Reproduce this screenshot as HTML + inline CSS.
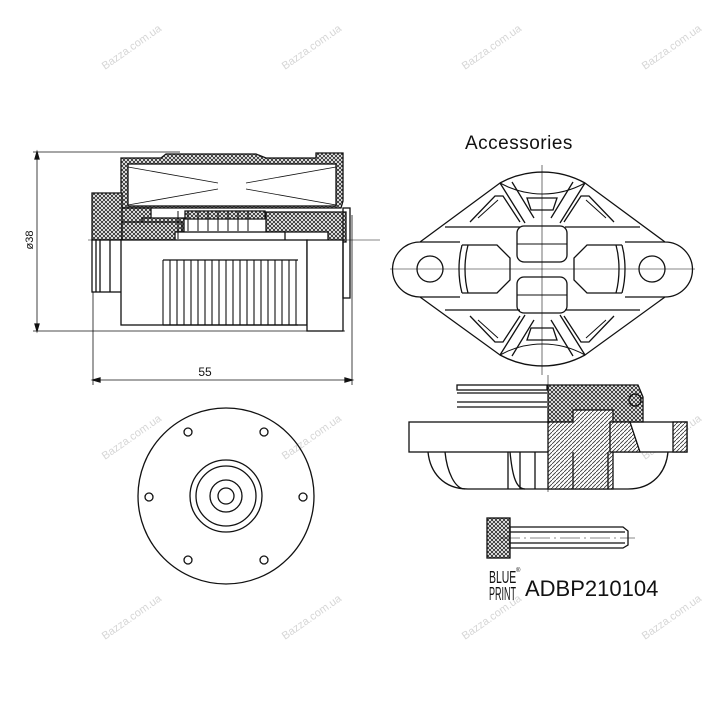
<!DOCTYPE html>
<html><head><style>html,body{margin:0;padding:0;background:#fff}svg{display:block}</style></head>
<body>
<svg width="720" height="720" viewBox="0 0 720 720" xmlns="http://www.w3.org/2000/svg" font-family="Liberation Sans, sans-serif">
<defs>
<pattern id="ch" width="4" height="4" patternUnits="userSpaceOnUse"><rect width="4" height="4" fill="#fff"/><path d="M0 0L4 4M4 0L0 4" stroke="#222" stroke-width="0.8"/></pattern>
<pattern id="dg" width="4" height="4" patternUnits="userSpaceOnUse"><rect width="4" height="4" fill="#fff"/><path d="M0 4L4 0" stroke="#333" stroke-width="0.8"/></pattern>
</defs>
<g fill="#ccc" font-size="11" opacity="0.8">
<text transform="translate(105,70) rotate(-35)">Bazza.com.ua</text>
<text transform="translate(285,70) rotate(-35)">Bazza.com.ua</text>
<text transform="translate(465,70) rotate(-35)">Bazza.com.ua</text>
<text transform="translate(645,70) rotate(-35)">Bazza.com.ua</text>
<text transform="translate(105,460) rotate(-35)">Bazza.com.ua</text>
<text transform="translate(285,460) rotate(-35)">Bazza.com.ua</text>
<text transform="translate(645,460) rotate(-35)">Bazza.com.ua</text>
<text transform="translate(105,640) rotate(-35)">Bazza.com.ua</text>
<text transform="translate(285,640) rotate(-35)">Bazza.com.ua</text>
<text transform="translate(465,640) rotate(-35)">Bazza.com.ua</text>
<text transform="translate(645,640) rotate(-35)">Bazza.com.ua</text>
</g>
<g stroke="#111" stroke-width="1.3" fill="none">
<!-- dimensions -->
<line x1="33" y1="152" x2="180" y2="152" stroke-width="0.8"/>
<line x1="33" y1="331" x2="345" y2="331" stroke-width="0.8"/>
<line x1="37" y1="152" x2="37" y2="331" stroke-width="0.8"/>
<path d="M37 152l-2 7h4zM37 331l-2-7h4z" fill="#111"/>
<line x1="93" y1="290" x2="93" y2="385" stroke-width="0.8"/>
<line x1="352" y1="215" x2="352" y2="385" stroke-width="0.8"/>
<line x1="93" y1="380" x2="352" y2="380" stroke-width="0.8"/>
<path d="M93 380l7-2v4zM352 380l-7-2v4z" fill="#111"/>
<line x1="88" y1="240" x2="380" y2="240" stroke-width="0.6"/>
<!-- housing -->
<path d="M121 158h40l5-4h90l10 4h50v-5h27v48l-2 7H121z" fill="url(#ch)"/>
<rect x="128" y="164" width="208" height="42" fill="#fff"/>
<path d="M128 167L218 183M128 205L218 189M336 167L246 183M336 205L246 189" stroke-width="0.8"/>
<path d="M121 208h30v18h-30zM185 211h80v8h-80z" fill="url(#ch)"/>
<path d="M92 193h30v47H92z" fill="url(#ch)"/>
<path d="M142 218h42v24h-42zM266 212h80v30h-18v-10h-62z" fill="url(#ch)"/>
<path d="M122 222h60v18h-60z" fill="url(#ch)"/>
<rect x="175" y="232" width="110" height="18" fill="#fff"/>
<path d="M178 211v28M188 211v20M198 211v20M208 211v20M218 211v20M228 211v20M238 211v20M248 211v20" stroke-width="1"/>
<rect x="92" y="240" width="30" height="52" fill="#fff"/>
<path d="M96 240v52M100 240v52M110 240v52"/>
<rect x="121" y="240" width="186" height="85" fill="#fff"/>
<rect x="307" y="240" width="36" height="91" fill="#fff"/>
<rect x="343" y="208" width="7" height="90"/>
<path d="M163 260h135M163 325h135"/>
<g stroke-width="1.1">
<path d="M163 260v65M170 260v65M177 260v65M184 260v65M191 260v65M198 260v65M205 260v65M212 260v65M219 260v65M226 260v65M233 260v65M240 260v65M247 260v65M254 260v65M261 260v65M268 260v65M275 260v65M282 260v65M289 260v65M296 260v65"/>
</g>
<!-- round view -->
<circle cx="226" cy="496" r="88"/>
<circle cx="226" cy="496" r="36"/>
<circle cx="226" cy="496" r="30"/>
<circle cx="226" cy="496" r="16"/>
<circle cx="226" cy="496" r="8"/>
<g fill="#fff">
<circle cx="188" cy="432" r="4"/><circle cx="264" cy="432" r="4"/>
<circle cx="149" cy="497" r="4"/><circle cx="303" cy="497" r="4"/>
<circle cx="188" cy="560" r="4"/><circle cx="264" cy="560" r="4"/>
</g>
<!-- flange top view -->
<path d="M420 242L500 183A88 88 0 0 1 585 183L665 242A27.5 27.5 0 0 1 665 297L585 355A88 88 0 0 1 500 355L420 297A27.5 27.5 0 0 1 420 242z"/>
<path d="M500 183A88 88 0 0 0 585 183M500 355A88 88 0 0 1 585 355" stroke-width="1"/>
<circle cx="430" cy="269" r="13"/><circle cx="652" cy="269" r="13"/>
<path d="M420 242h40M420 297h40M625 242h40M625 297h40"/>
<path d="M445 227h75M565 227h75M445 310h75M565 310h75"/>
<!-- lobes inner -->
<path d="M462 245h35l13 13v22l-13 13h-35M622 245h-35l-13 13v22l13 13h35"/>
<path d="M462 245c-4 15-4 33 0 48M468 245c-4 15-4 33 0 48M622 245c4 15 4 33 0 48M616 245c4 15 4 33 0 48"/>
<rect x="517" y="226" width="50" height="36" rx="7"/>
<rect x="517" y="277" width="50" height="36" rx="7"/>
<path d="M517 244h50M517 295h50" stroke-width="1"/>
<!-- X ribs -->
<path d="M500 183l25 40M512 182l22 36M585 183l-25 40M573 182l-22 36M500 355l25-40M512 356l22-36M585 355l-25-40M573 356l-22-36"/>
<path d="M527 198h30l-4 12h-22zM527 340h30l-4-12h-22z"/>
<path d="M470 222l25-26h8l17 26M614 222l-25-26h-8l-17 26M470 316l25 26h8l17-26M614 316l-25 26h-8l-17-26"/>
<path d="M478 218l20-18M606 218l-20-18M478 320l20 18M606 320l-20 18" stroke-width="1"/>
<line x1="390" y1="269" x2="695" y2="269" stroke-width="0.6"/>
<line x1="542" y1="165" x2="542" y2="375" stroke-width="0.6"/>
<!-- flange side view -->
<path d="M428 452c2 20 15 37 40 37h160c25 0 38-17 40-37"/>
<path d="M445 452c2 20 10 37 20 37M510 452c2 20 5 37 15 37"/>
<rect x="457" y="385" width="90" height="5"/>
<path d="M457 393h90M457 402h90M457 407h90"/>
<rect x="409" y="422" width="278" height="30" fill="#fff"/>
<path d="M548 385h90l5 12v25H548z" fill="url(#ch)"/>
<circle cx="635" cy="400" r="6" fill="url(#ch)"/>
<path d="M548 422h25v-12h40v79h-65z" fill="url(#dg)"/>
<path d="M610 422h20l10 30h-30z" fill="url(#dg)"/>
<rect x="673" y="422" width="14" height="30" fill="url(#dg)"/>
<path d="M508 452v37M520 452v37M535 452v37M573 452v37M608 452v37"/>
<line x1="548" y1="375" x2="548" y2="492" stroke-width="0.6"/>
<!-- bolt -->
<rect x="487" y="518" width="23" height="40" fill="url(#ch)"/>
<path d="M510 527h113l5 4v14l-5 3H510z"/>
<path d="M510 532h115M510 543h115"/>
<line x1="500" y1="538" x2="635" y2="538" stroke-width="0.5" stroke-dasharray="20 4 2 4"/>
</g>
<text font-size="11" fill="#111" transform="translate(33,240) rotate(-90)" text-anchor="middle">ø38</text>
<text x="205" y="376" font-size="12" fill="#111" text-anchor="middle">55</text>
<text x="465" y="149" font-size="19" fill="#111" letter-spacing="0.5">Accessories</text>
<text font-size="18" fill="#111" transform="translate(489,583) scale(0.58,1)">BLUE</text>
<text font-size="18" fill="#111" transform="translate(489,600) scale(0.5,1)">PRINT</text>
<text x="516" y="572" font-size="6" fill="#111">®</text>
<text x="525" y="596" font-size="22" fill="#111">ADBP210104</text>
</svg>
</body></html>
